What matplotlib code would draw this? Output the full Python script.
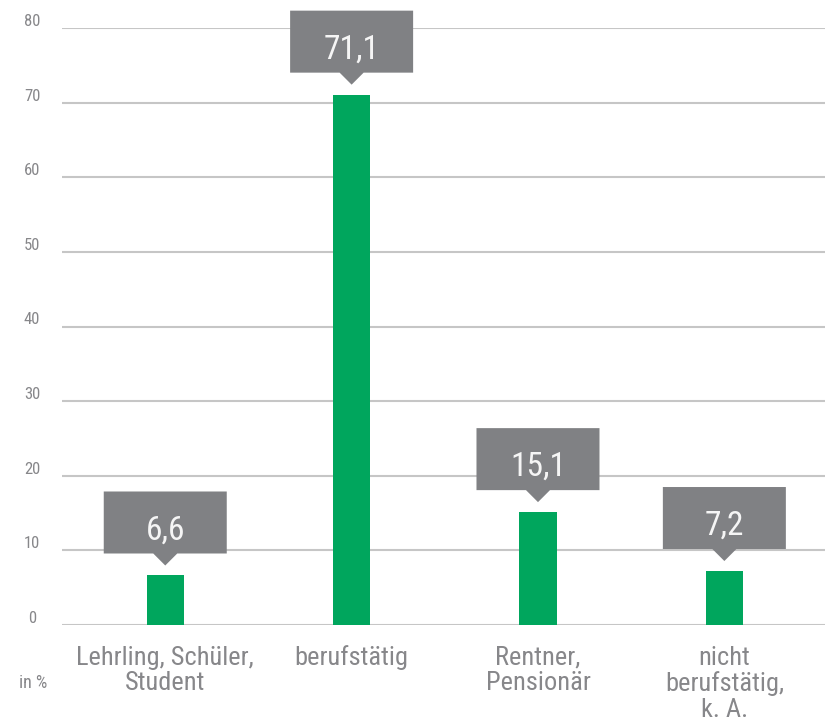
import matplotlib
matplotlib.use('Agg')
import matplotlib.pyplot as plt
from matplotlib.patches import Polygon
from matplotlib.transforms import ScaledTranslation, Affine2D

# Daten
categories = ['Lehrling, Schüler,\nStudent', 'berufstätig', 'Rentner,\nPensionär',
              'nicht\nberufstätig,\nk. A.']
values = [6.6, 71.1, 15.1, 7.2]
value_labels = ['6,6', '71,1', '15,1', '7,2']
yticks = [0, 10, 20, 30, 40, 50, 60, 70, 80]

plt.rcParams['font.family'] = ['Roboto Condensed', 'Roboto', 'DejaVu Sans']

GREEN = '#00a65d'
BOX = '#808184'
TXT = '#87878a'
GRID = '#c6c6c6'

dpi = 100
fig = plt.figure(figsize=(8.25, 7.25), dpi=dpi)
ax = fig.add_axes([62 / 825, 1 - 624.7 / 725, 1 - 62 / 825, (624.7 - 28.3) / 725])

x = list(range(len(values)))
ax.bar(x, values, width=0.2, color=GREEN, zorder=3)

ax.set_xlim(-0.554, 3.54)
ax.set_ylim(0, 80)
ax.set_yticks(yticks)
ax.set_yticklabels([str(t) for t in yticks])
ax.grid(axis='y', color=GRID, linewidth=1.5, zorder=0)
for s in ax.spines.values():
    s.set_visible(False)
ax.tick_params(axis='y', length=0, pad=21.6, labelsize=12, labelcolor=TXT)
for lbl in ax.get_yticklabels():
    lbl.set_horizontalalignment('center')
    lbl.set_transform(lbl.get_transform() + ScaledTranslation(0, 8 / dpi, fig.dpi_scale_trans))

ax.set_xticks(x)
ax.set_xticklabels(categories, linespacing=1.1)
ax.tick_params(axis='x', length=0, pad=15, labelsize=19, labelcolor=TXT)

# Wertkästchen mit Spitze (in Pixeln relativ zur Balkenoberkante)
shape = [(0, 10), (-12, 22), (-61.5, 22), (-61.5, 84), (61.5, 84), (61.5, 22), (12, 22)]
for xi, v, t in zip(x, values, value_labels):
    tr = Affine2D() + ScaledTranslation(xi, v, ax.transData)
    poly = Polygon(shape, closed=True, facecolor=BOX, edgecolor='none',
                   transform=tr, clip_on=False, zorder=4)
    ax.add_patch(poly)
    ax.text(0, 36, t, transform=tr, ha='center', va='baseline', fontsize=24,
            color='#f5f5f5', zorder=5, clip_on=False)

fig.text(33 / 825, 1 - 683 / 725, 'in %', ha='center', va='center', fontsize=13, color=TXT)

fig.savefig('out.png', dpi=dpi)
